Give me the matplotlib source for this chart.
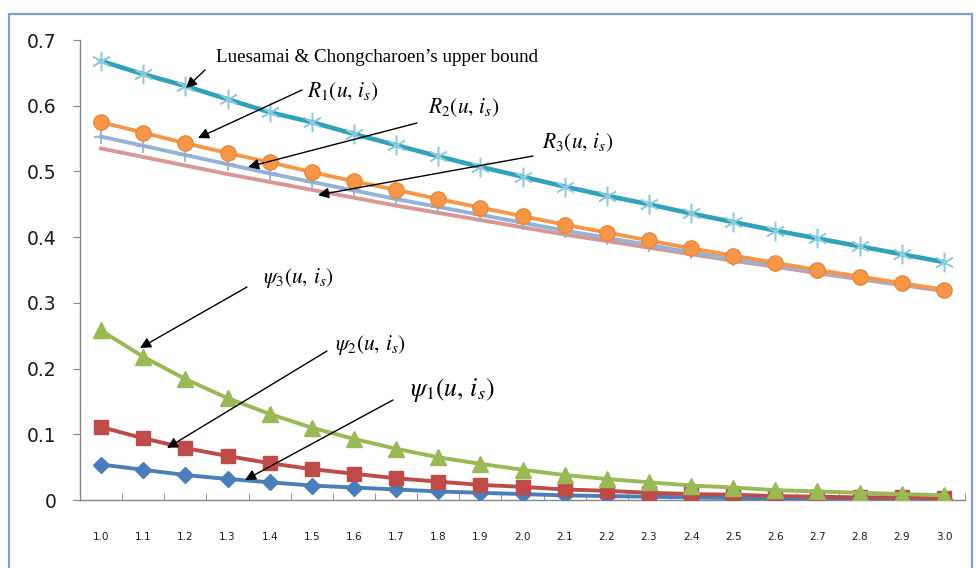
import numpy as np
import matplotlib
matplotlib.use('Agg')
import matplotlib.pyplot as plt
from matplotlib.patches import Rectangle

W, H = 976, 568

x_labels = ['1.0', '1.1', '1.2', '1.3', '1.4', '1.5', '1.6', '1.7', '1.8', '1.9', '2.0',
            '2.1', '2.2', '2.3', '2.4', '2.5', '2.6', '2.7', '2.8', '2.9', '3.0']

upper_bound = [0.668, 0.648, 0.630, 0.610, 0.590, 0.575, 0.557, 0.540, 0.523, 0.507, 0.492,
               0.477, 0.463, 0.450, 0.436, 0.423, 0.410, 0.398, 0.386, 0.374, 0.362]
r1 = [0.575, 0.559, 0.543, 0.528, 0.514, 0.499, 0.485, 0.472, 0.458, 0.445, 0.432,
      0.419, 0.407, 0.395, 0.383, 0.372, 0.361, 0.350, 0.340, 0.330, 0.320]
r2 = [0.553, 0.539, 0.525, 0.511, 0.497, 0.484, 0.471, 0.458, 0.446, 0.434, 0.422,
      0.410, 0.399, 0.388, 0.377, 0.367, 0.357, 0.347, 0.337, 0.328, 0.320]
r3 = [0.535, 0.522, 0.509, 0.496, 0.484, 0.472, 0.460, 0.448, 0.437, 0.426, 0.415,
      0.404, 0.394, 0.384, 0.374, 0.364, 0.355, 0.345, 0.336, 0.327, 0.318]
psi3 = [0.258, 0.218, 0.184, 0.155, 0.131, 0.110, 0.093, 0.078, 0.065, 0.055, 0.046,
        0.038, 0.032, 0.027, 0.022, 0.019, 0.015, 0.013, 0.011, 0.009, 0.007]
psi2 = [0.111, 0.094, 0.079, 0.067, 0.056, 0.047, 0.040, 0.033, 0.028, 0.023, 0.020,
        0.016, 0.014, 0.011, 0.009, 0.008, 0.006, 0.005, 0.004, 0.004, 0.003]
psi1 = [0.054, 0.046, 0.038, 0.032, 0.027, 0.022, 0.019, 0.016, 0.013, 0.011, 0.009,
        0.007, 0.006, 0.005, 0.004, 0.003, 0.003, 0.002, 0.002, 0.001, 0.001]

y_ticks = [0, 0.1, 0.2, 0.3, 0.4, 0.5, 0.6, 0.7]
y_labels = ['0', '0.1', '0.2', '0.3', '0.4', '0.5', '0.6', '0.7']

plt.rcParams['mathtext.fontset'] = 'stix'


def fig_px(px, py):
    # pixel from top-left -> figure fraction
    return (px / W, 1 - py / H)


fig = plt.figure(figsize=(W / 100, H / 100), dpi=100)
ax = fig.add_axes([80 / W, (H - 500) / H, (965 - 80) / W, (500 - 40) / H])

x = np.arange(len(x_labels))
lw = 2.8

ax.plot(x, r3, color='#D99694', lw=lw, zorder=2)
ax.plot(x, r2, color='#95B3D7', lw=lw, marker='+', ms=10, mew=1.2, mec='#8EAED8', zorder=3)
ax.plot(x, r1, color='#F79646', lw=lw, marker='o', ms=11, mec='#E8893A', zorder=4)
ax.plot(x, upper_bound, color='#31A2BC', lw=lw + 0.5, zorder=4)
ax.plot(x, upper_bound, ls='none', marker=(6, 2, 0), ms=14, mew=1.1, mec='#8CCBDD', zorder=5)

ax.plot(x, psi1, color='#4A7EBB', lw=lw, marker='D', ms=8, zorder=4)
ax.plot(x, psi2, color='#BE4B48', lw=lw, marker='s', ms=10, zorder=5)
ax.plot(x, psi3, color='#98B954', lw=lw, marker='^', ms=11, zorder=6)

ax.set_xlim(-0.5, len(x_labels) - 0.5)
ax.set_ylim(0, 0.7)

ax.set_yticks(y_ticks)
ax.set_yticklabels(y_labels, fontsize=13.5, color='#1a1a1a')
ax.set_xticks(x)
ax.set_xticklabels(x_labels, fontsize=7.5, color='#1a1a1a')
ax.set_xticks(np.arange(-0.5, len(x_labels)), minor=True)
ax.tick_params(axis='x', which='major', length=0, pad=23)
ax.tick_params(axis='x', which='minor', direction='in', length=5, color='#868686')
ax.tick_params(axis='y', direction='out', length=5, color='#868686', pad=12)

for side in ['top', 'right']:
    ax.spines[side].set_visible(False)
for side in ['left', 'bottom']:
    ax.spines[side].set_color('#868686')
    ax.spines[side].set_linewidth(1)

arrow = dict(arrowstyle='-|>', color='black', lw=1, mutation_scale=16, shrinkA=0, shrinkB=0)

notes = [
    ("Luesamai & Chongcharoen\u2019s upper bound", (216, 57), (205, 70), (186, 88), 13.7, 'Liberation Serif'),
    (r'$R_1(u,\,i_s)$', (307, 92), (302, 90), (198, 138), 15.5, None),
    (r'$R_2(u,\,i_s)$', (428, 108), (417, 123), (248, 167), 15.5, None),
    (r'$R_3(u,\,i_s)$', (542, 143), (533, 156), (318, 195), 15.5, None),
    (r'$\psi_3(u,\,i_s)$', (263, 278), (247, 287), (140, 348), 15.5, None),
    (r'$\psi_2(u,\,i_s)$', (335, 345), (327, 351), (167, 448), 15.5, None),
    (r'$\psi_1(u,\,i_s)$', (410, 390), (393, 400), (245, 480), 18.5, None),
]
for text, tpos, tail, head, size, fam in notes:
    kw = {}
    if fam:
        kw['family'] = fam
    fig.text(*fig_px(*tpos), text, fontsize=size, ha='left', va='center', **kw)
    ax.annotate('', xy=fig_px(*head), xycoords='figure fraction',
                xytext=fig_px(*tail), textcoords='figure fraction',
                arrowprops=arrow, zorder=10)

border = Rectangle((9 / W, -0.02), (972 - 9) / W, 1.02 - 14 / H,
                   transform=fig.transFigure, fill=False, edgecolor='#7EA0CC', lw=1.6)
fig.patches.append(border)

fig.savefig('out.png', dpi=100)
